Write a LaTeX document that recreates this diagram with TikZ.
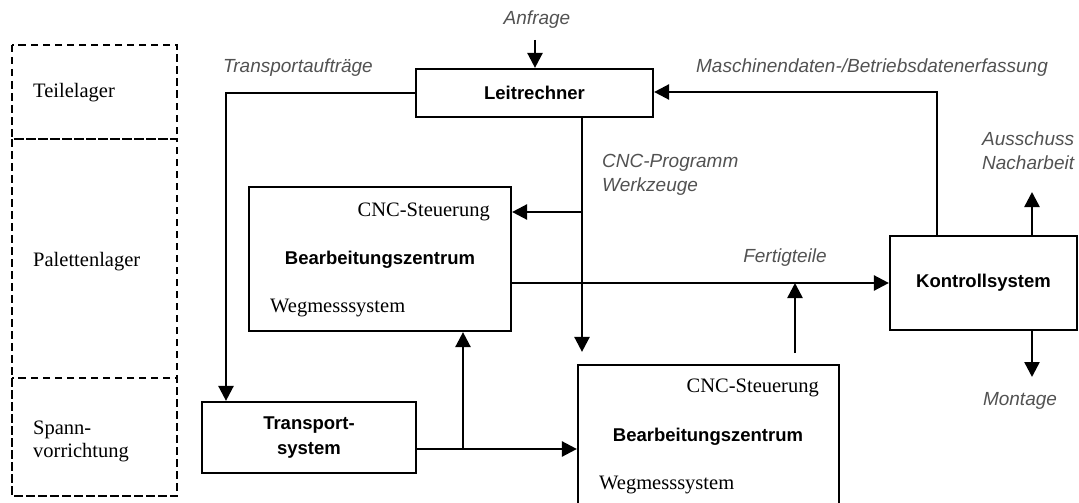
\documentclass[tikz,border=0pt]{standalone}
\usepackage{fontspec}
\setmainfont{Liberation Serif}
\setsansfont{Liberation Sans}
\usetikzlibrary{arrows.meta}
\begin{document}
\begin{tikzpicture}[x=1pt,y=-1pt,
 box/.style={draw, line width=2.2pt, rectangle, inner sep=0pt},
 conn/.style={line width=2.5pt, -{Triangle[length=15pt,width=15pt]}},
 lbl/.style={font=\fontsize{19}{24}\selectfont\sffamily\itshape, text=black!68, inner sep=0pt, align=left},
 bold/.style={font=\fontsize{18.5}{25}\selectfont\sffamily\bfseries, align=center},
 serif/.style={font=\fontsize{20.5}{23}\selectfont\rmfamily, inner sep=0pt, align=left},
 dbox/.style={draw, line width=1.8pt, dash pattern=on 7.5pt off 4.5pt}]
\useasboundingbox (0,0) rectangle (1079,503);
\clip (0,0) rectangle (1079,503);

% dashed storage areas
\draw[dbox] (12,45) rectangle (177,139);
\draw[dbox] (12,139) rectangle (177,496);
\draw[dbox] (12,378) rectangle (177,496);
\node[serif, anchor=west] (teil) at (33,93) {Teilelager};
\node[serif, anchor=west] (pal) at (33,262) {Palettenlager};
\node[serif, anchor=west] (spann) at (33,441) {Spann-\\vorrichtung};

% boxes
\node[box, bold, minimum width=237pt, minimum height=48pt] (leit) at (534.5,93) {Leitrechner};
\node[box, minimum width=262pt, minimum height=144pt] (bz1) at (380,259) {};
\node[box, minimum width=261pt, minimum height=150pt] (bz2) at (708.5,440) {};
\node[box, bold, minimum width=187pt, minimum height=94pt] (k) at (983.5,283) {Kontrollsystem};
\node[box, bold, minimum width=214pt, minimum height=71pt] (tr) at (309,437.5) {Transport-\\system};

% box inner texts
\node[serif, anchor=east] (bz1c) at (490,212) {CNC-Steuerung};
\node[bold, inner sep=0pt] (bz1b) at (380,260) {Bearbeitungszentrum};
\node[serif, anchor=west] (bz1w) at (270,308) {Wegmesssystem};
\node[serif, anchor=east] (bz2c) at (819,388) {CNC-Steuerung};
\node[bold, inner sep=0pt] (bz2b) at (708,437) {Bearbeitungszentrum};
\node[serif, anchor=west] (bz2w) at (599,485) {Wegmesssystem};

% labels
\node[lbl] (anf) at (537,20) {Anfrage};
\node[lbl, anchor=west] (tra) at (223,68) {Transportauftr\"age};
\node[lbl] (mde) at (872,68) {Maschinendaten-/Betriebsdatenerfassung};
\node[lbl, anchor=west] (cnc) at (602,175) {CNC-Programm\\Werkzeuge};
\node[lbl] (fert) at (785,258) {Fertigteile};
\node[lbl, anchor=west] (aus) at (982,151) {Ausschuss\\Nacharbeit};
\node[lbl] (mon) at (1020,401) {Montage};

% coordinates
\coordinate (anfA) at (535,40);
\coordinate (tA) at (226,93);
\coordinate (lB) at (582,117);
\coordinate (lC) at (582,212);
\coordinate (fA) at (795,353);
\coordinate (mA) at (937,92);
\coordinate (aA) at (1032,192);
\coordinate (moA) at (1032,377);
\coordinate (tB) at (416,449);
\coordinate (tC) at (463,449);

% connectors
\draw[conn] (anfA) -- (anfA |- leit.north);
\draw[conn] (leit.west) -- (tA) -- (tA |- tr.north);
\draw[conn, shorten >=12pt] (lB) -- (lB |- bz2.north);
\draw[conn] (lC) -- (lC -| bz1.east);
\draw[conn] (k.west -| bz1.east) -- (k.west);
\draw[conn] (fA) -- (fA |- k.west);
\draw[conn] (mA |- k.north) -- (mA) -- (mA -| leit.east);
\draw[conn] (aA |- k.north) -- (aA);
\draw[conn] (moA |- k.south) -- (moA);
\draw[conn] (tB) -- (tB -| bz2.west);
\draw[conn] (tC) -- (tC |- bz1.south);
\end{tikzpicture}
\end{document}
